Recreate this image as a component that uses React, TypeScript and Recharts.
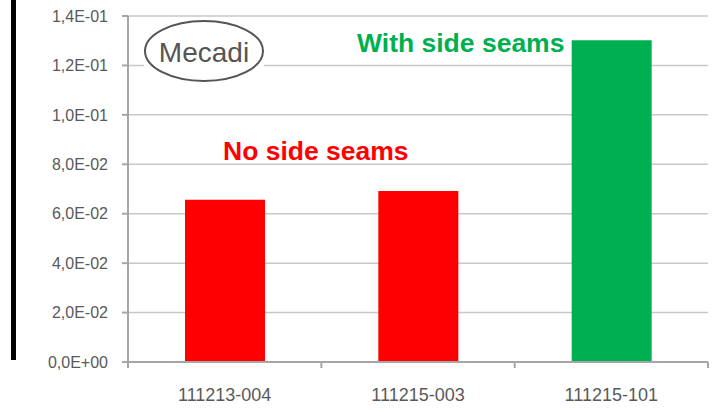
import React from 'react';
import { Bar, BarChart, CartesianGrid, Cell, XAxis, YAxis } from 'recharts';

const categories = ['111213-004', '111215-003', '111215-101'];
const values = [0.0656, 0.0692, 0.1302];
const barColors = ['#ff0000', '#ff0000', '#00b050'];
const yTicks = [0, 0.02, 0.04, 0.06, 0.08, 0.1, 0.12, 0.14];
const yTickLabels = ['0,0E+00', '2,0E-02', '4,0E-02', '6,0E-02', '8,0E-02', '1,0E-01', '1,2E-01', '1,4E-01'];

const data = categories.map((name, i) => ({ name, value: values[i] }));

const W = 721;
const H = 412;
const FONT = '"Liberation Sans", Arial, sans-serif';
const X_TICK_SIZE = 6;
const X_TICK_MARGIN = 20;

// Excel-style x tick: marks sit on the category boundaries, label in the middle
const XTick = (props: any) => {
  const { x, y, payload, index, visibleTicksCount } = props;
  const half = payload && payload.offset ? payload.offset : 96.7;
  const axisY = y - X_TICK_SIZE - X_TICK_MARGIN;
  const last = index === (visibleTicksCount ?? categories.length) - 1;
  return (
    <g>
      <line x1={x - half} x2={x - half} y1={axisY} y2={axisY + X_TICK_SIZE} stroke='#a6a6a6' strokeWidth={2} />
      {last && (
        <line x1={x + half} x2={x + half} y1={axisY} y2={axisY + X_TICK_SIZE} stroke='#a6a6a6' strokeWidth={2} />
      )}
      <text x={x} y={y} dy='0.71em' textAnchor='middle' fill='#595959' fontSize={18} fontFamily={FONT}>
        {payload.value}
      </text>
    </g>
  );
};

export default function App() {
  return (
    <div style={{ position: 'absolute', left: 0, top: 0, width: W, height: H, background: '#fff' }}>
      <BarChart
        width={W}
        height={H}
        data={data}
        margin={{ top: 16, right: 13, left: 0, bottom: 0 }}
        barSize={80}
      >
        <CartesianGrid vertical={false} stroke='#c8c8c8' strokeWidth={1.5} />
        <XAxis
          dataKey='name'
          height={50}
          tickLine={false}
          axisLine={{ stroke: '#a6a6a6', strokeWidth: 2 }}
          tick={<XTick />}
          tickSize={X_TICK_SIZE}
          tickMargin={X_TICK_MARGIN}
          interval={0}
        />
        <YAxis
          width={128}
          domain={[0, 0.14]}
          ticks={yTicks}
          interval={0}
          tickFormatter={(v: number) => yTickLabels[yTicks.findIndex((t) => Math.abs(t - v) < 1e-9)] ?? ''}
          tick={{ fill: '#595959', fontSize: 16, fontFamily: FONT }}
          tickSize={6}
          tickMargin={14}
          tickLine={{ stroke: '#a6a6a6', strokeWidth: 2 }}
          axisLine={{ stroke: '#a6a6a6', strokeWidth: 2 }}
        />
        <Bar dataKey='value' isAnimationActive={false}>
          {data.map((d, i) => (
            <Cell key={d.name} fill={barColors[i]} />
          ))}
        </Bar>
      </BarChart>

      {/* annotations laid over the chart */}
      <svg width={W} height={H} style={{ position: 'absolute', left: 0, top: 0, pointerEvents: 'none' }}>
        <rect x={11} y={0} width={5} height={360} fill='#000' />
        <rect x={144} y={20} width={120} height={63} fill='#fff' />
        <ellipse cx={204} cy={51} rx={59} ry={30} fill='none' stroke='#555' strokeWidth={2} />
        <text x={204} y={62} textAnchor='middle' fill='#555' fontSize={28} fontFamily={FONT}>
          Mecadi
        </text>
        <text x={357} y={52} fill='#00b050' fontSize={26.5} fontWeight='bold' fontFamily={FONT}>
          With side seams
        </text>
        <text x={223} y={160} fill='#ff0000' fontSize={26.5} fontWeight='bold' fontFamily={FONT}>
          No side seams
        </text>
      </svg>
    </div>
  );
}
